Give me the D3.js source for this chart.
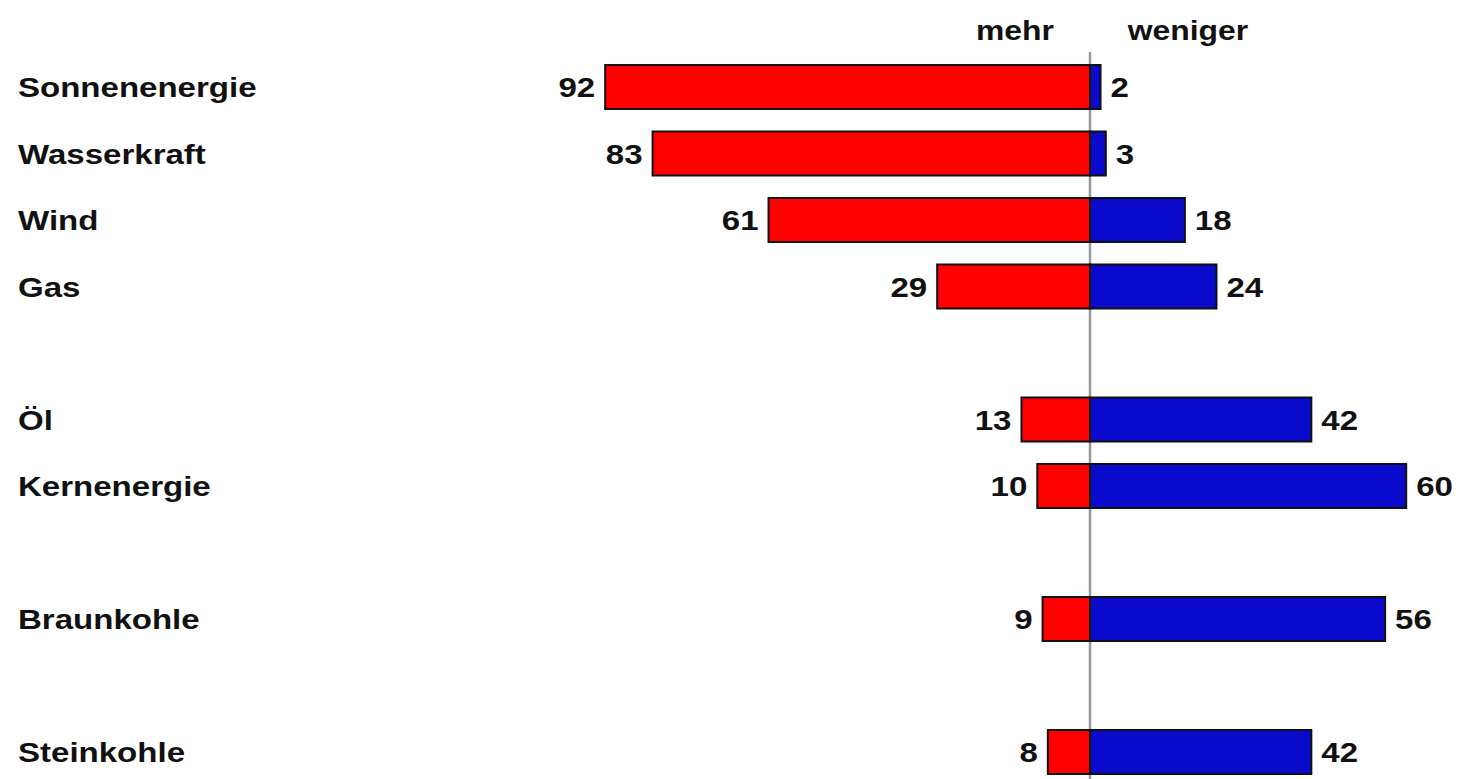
<!DOCTYPE html>
<html>
<head>
<meta charset="utf-8">
<script src="https://cdn.jsdelivr.net/npm/d3@7"></script>
<style>
  html, body { margin: 0; padding: 0; background: #fff; }
  svg text { font-family: "Liberation Sans", Arial, sans-serif; font-weight: bold; fill: #111; }
</style>
</head>
<body>
<svg id="chart" width="1459" height="779"></svg>
<script>
// Energy sources, grouped; an empty slot sits between groups
var groups = [
    ['Sonnenenergie', 'Wasserkraft', 'Wind', 'Gas'],
    ['Öl', 'Kernenergie'],
    ['Braunkohle'],
    ['Steinkohle']
];
// "mehr" share (drawn left, red)
var mehr = [92, 83, 61, 29, 13, 10, 9, 8];
// "weniger" share (drawn right, blue)
var weniger = [2, 3, 18, 24, 42, 60, 56, 42];
var header_labels = ['mehr', 'weniger'];

// Flatten groups into rows with a slot index (gap slot between groups)
var rows = [];
var slot = 0;
groups.forEach(function (g, gi) {
    if (gi > 0) slot += 1;
    g.forEach(function (name) {
        var i = rows.length;
        rows.push({ name: name, slot: slot, mehr: mehr[i], weniger: weniger[i] });
        slot += 1;
    });
});

// The original lettering is a little wider than Liberation Sans
var stretch = 1.18;
function place(xpos, ypos) {
    return 'translate(' + xpos + ',' + ypos + ') scale(' + stretch + ',1)';
}

var svg = d3.select('#chart');
var x = d3.scaleLinear().domain([-100, 100]).range([563, 1617]);
var y = d3.scaleBand()
    .domain(d3.range(slot))
    .range([53.75, 785.25])
    .paddingInner(0.338)
    .paddingOuter(0.169);

// Center line
svg.append('line')
    .attr('x1', x(0)).attr('x2', x(0))
    .attr('y1', 52).attr('y2', 779)
    .attr('stroke', '#999').attr('stroke-width', 2.5);

// Headers
svg.selectAll('.header').data(header_labels)
    .enter().append('text')
    .attr('class', 'header')
    .attr('transform', function (d, i) { return place(i === 0 ? 1015 : 1188, 40); })
    .attr('text-anchor', 'middle')
    .style('font-size', '27px')
    .text(function (d) { return d; });

var row = svg.selectAll('.row').data(rows)
    .enter().append('g')
    .attr('class', 'row')
    .attr('transform', function (d) { return 'translate(0,' + y(d.slot) + ')'; });

var bh = y.bandwidth();

// Category names
row.append('text')
    .attr('transform', place(18, bh / 2))
    .attr('dy', '0.36em')
    .style('font-size', '28px')
    .text(function (d) { return d.name; });

// Red bars (mehr)
row.append('rect')
    .attr('x', function (d) { return x(-d.mehr); })
    .attr('y', 0)
    .attr('width', function (d) { return x(0) - x(-d.mehr); })
    .attr('height', bh)
    .attr('fill', '#ff0000')
    .attr('stroke', '#111').attr('stroke-width', 2);

// Blue bars (weniger)
row.append('rect')
    .attr('x', x(0))
    .attr('y', 0)
    .attr('width', function (d) { return x(d.weniger) - x(0); })
    .attr('height', bh)
    .attr('fill', '#0a0acc')
    .attr('stroke', '#111').attr('stroke-width', 2);

// Value labels
row.append('text')
    .attr('transform', function (d) { return place(x(-d.mehr) - 10, bh / 2); })
    .attr('dy', '0.36em')
    .attr('text-anchor', 'end')
    .style('font-size', '28px')
    .text(function (d) { return d.mehr; });

row.append('text')
    .attr('transform', function (d) { return place(x(d.weniger) + 10, bh / 2); })
    .attr('dy', '0.36em')
    .style('font-size', '28px')
    .text(function (d) { return d.weniger; });
</script>
</body>
</html>
